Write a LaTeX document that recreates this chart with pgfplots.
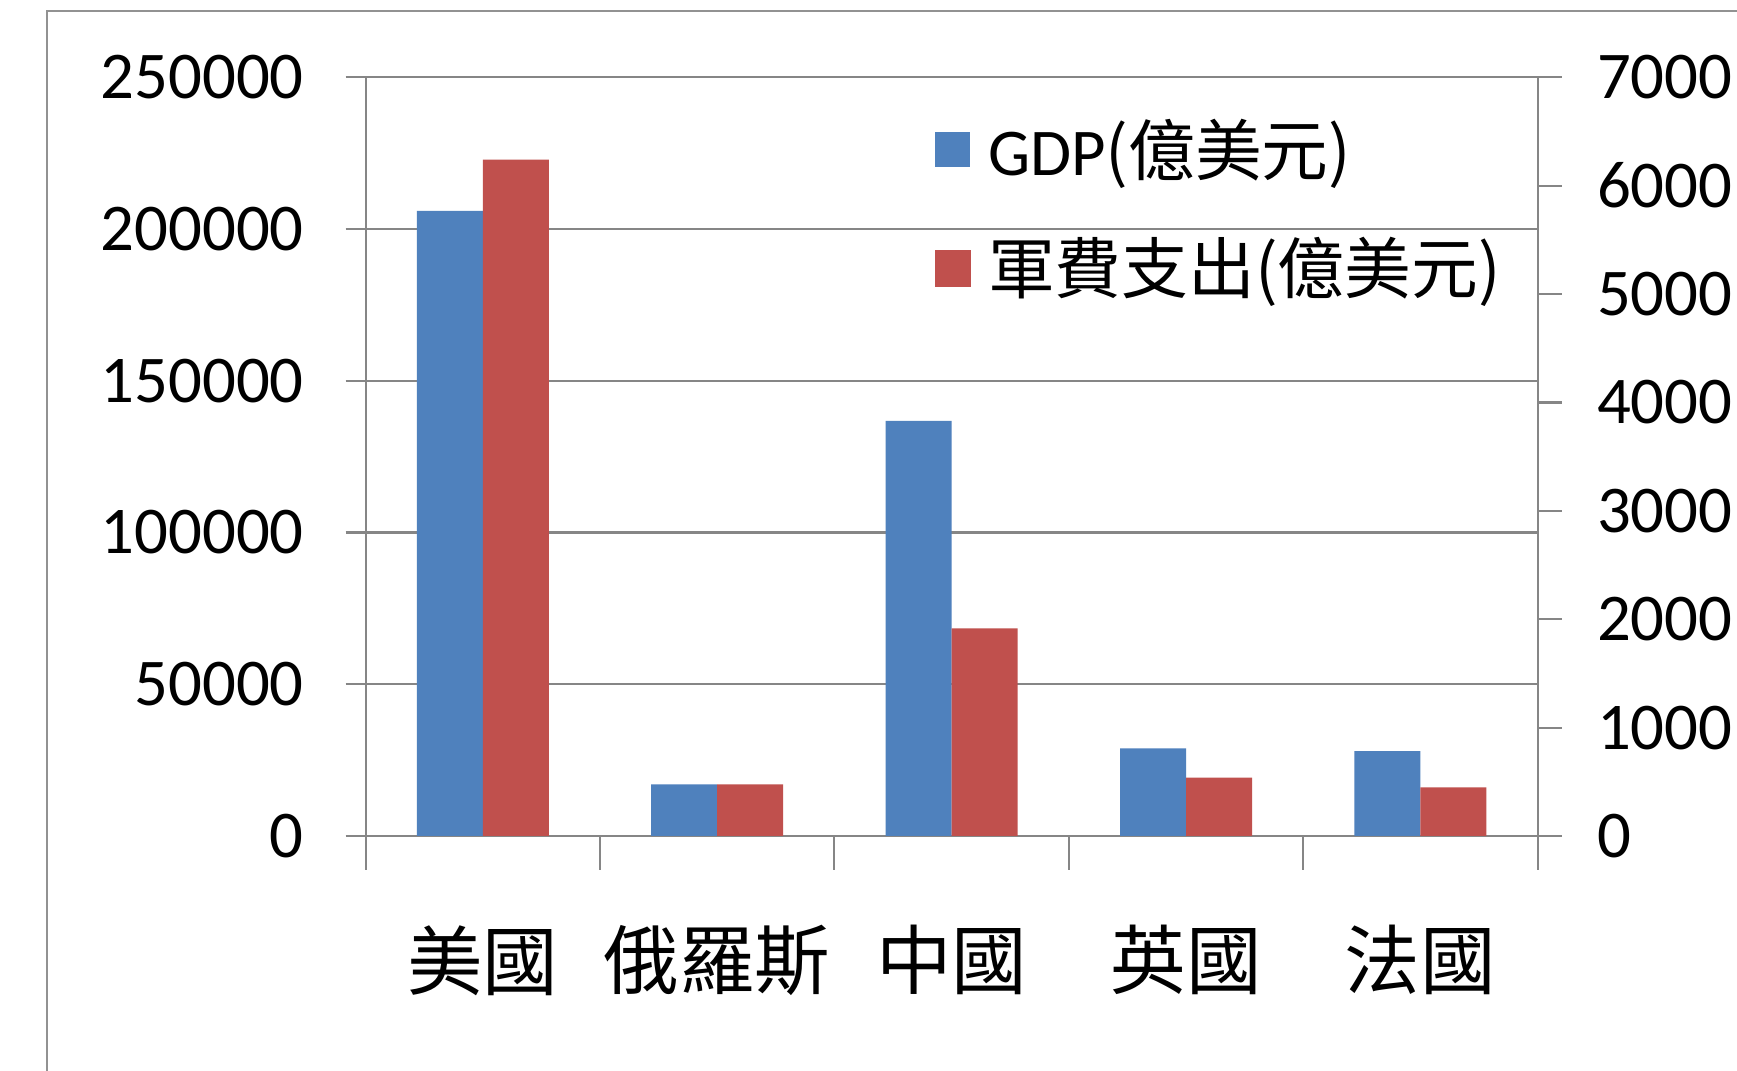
\documentclass[border=0pt]{standalone}
\usepackage{fontspec}
\setmainfont{Carlito}
\newfontfamily\cjk{Noto Sans CJK TC}
\usepackage{pgfplots}
\pgfplotsset{compat=1.18}
\definecolor{gdpblue}{HTML}{4F81BD}
\definecolor{milred}{HTML}{C0504D}
\definecolor{gridgray}{HTML}{868686}
\begin{document}
\begin{tikzpicture}
\useasboundingbox (0,0) rectangle (173.7mm,107.1mm);
\fill[white] (0,0) rectangle (173.7mm,107.1mm);
\draw[gridgray!90, line width=0.7pt] (4.7mm,-5mm) -- (4.7mm,106mm) -- (180mm,106mm);
% left y ticks only (short)
\begin{axis}[
  at={(36.56mm,23.5mm)}, anchor=south west,
  scale only axis, width=117.2mm, height=75.87mm,
  xmin=-0.5, xmax=4.5, ymin=0, ymax=250000,
  axis x line=none, axis y line*=left,
  axis line style={gridgray, line width=0.6pt},
  every tick/.style={gridgray, line width=0.6pt},
  tick align=outside, major tick length=2mm,
  ytick={0,50000,...,250000}, yticklabels={},
  scaled y ticks=false,
]
\addplot[draw=none] coordinates {(0,0)};
\end{axis}
\begin{axis}[
  at={(36.56mm,23.5mm)}, anchor=south west,
  scale only axis, width=117.2mm, height=75.87mm,
  xmin=-0.5, xmax=4.5, ymin=0, ymax=250000,
  axis x line*=bottom, axis y line*=left,
  axis line style={gridgray, line width=0.6pt},
  every tick/.style={gridgray, line width=0.6pt},
  tick align=outside,
  ytick={0,50000,...,250000},
  major y tick style={draw=none},
  major tick length=3.4mm,
  ymajorgrids, grid style={gridgray, line width=0.6pt},
  xtick={-0.5,0.5,...,4.5},
  x tick label as interval,
  xticklabels={美國,俄羅斯,中國,英國,法國},
  xticklabel style={font=\cjk\fontsize{21.5}{24}\selectfont, yshift=-4.3mm},
  yticklabel style={font=\fontsize{19}{22}\selectfont, xshift=-1.55mm},
  scaled y ticks=false,
  /pgf/number format/.cd, fixed, 1000 sep={}, assume math mode=true,
  /pgfplots/.cd,
  legend style={draw=none, fill=none, at={(0.485,0.946)}, anchor=north west,
    inner sep=0pt, row sep=5.7mm, column sep=1.7mm,
    nodes={inner sep=0pt, anchor=west},
    font=\fontsize{19}{22}\selectfont},
  legend cell align=left,
]
\addplot[ybar, bar width=6.6mm, bar shift=-3.3mm, fill=gdpblue, draw=none,
  legend image code/.code={\fill[gdpblue] (0mm,-1.75mm) rectangle (3.5mm,1.75mm);}]
  coordinates {(0,206000) (1,17000) (2,136800) (3,28900) (4,28000)};
\addlegendentry{GDP{\cjk(億美元)}}
\addlegendimage{legend image code/.code={\fill[milred] (0mm,-1.75mm) rectangle (3.5mm,1.75mm);}}
\addlegendentry{{\cjk 軍費支出(億美元)}}
\end{axis}
\begin{axis}[
  at={(36.56mm,23.5mm)}, anchor=south west,
  scale only axis, width=117.2mm, height=75.87mm,
  xmin=-0.5, xmax=4.5, ymin=0, ymax=7000,
  axis y line*=right, axis x line=none,
  axis line style={gridgray, line width=0.6pt},
  every tick/.style={gridgray, line width=0.6pt},
  tick align=outside, major tick length=2.4mm,
  ytick={0,1000,...,7000},
  yticklabel style={font=\fontsize{19}{22}\selectfont, xshift=2.3mm},
  scaled y ticks=false,
  /pgf/number format/.cd, fixed, 1000 sep={}, assume math mode=true,
]
\addplot[ybar, bar width=6.6mm, bar shift=3.3mm, fill=milred, draw=none]
  coordinates {(0,6240) (1,477) (2,1916) (3,538) (4,449)};
\end{axis}
\end{tikzpicture}
\end{document}
